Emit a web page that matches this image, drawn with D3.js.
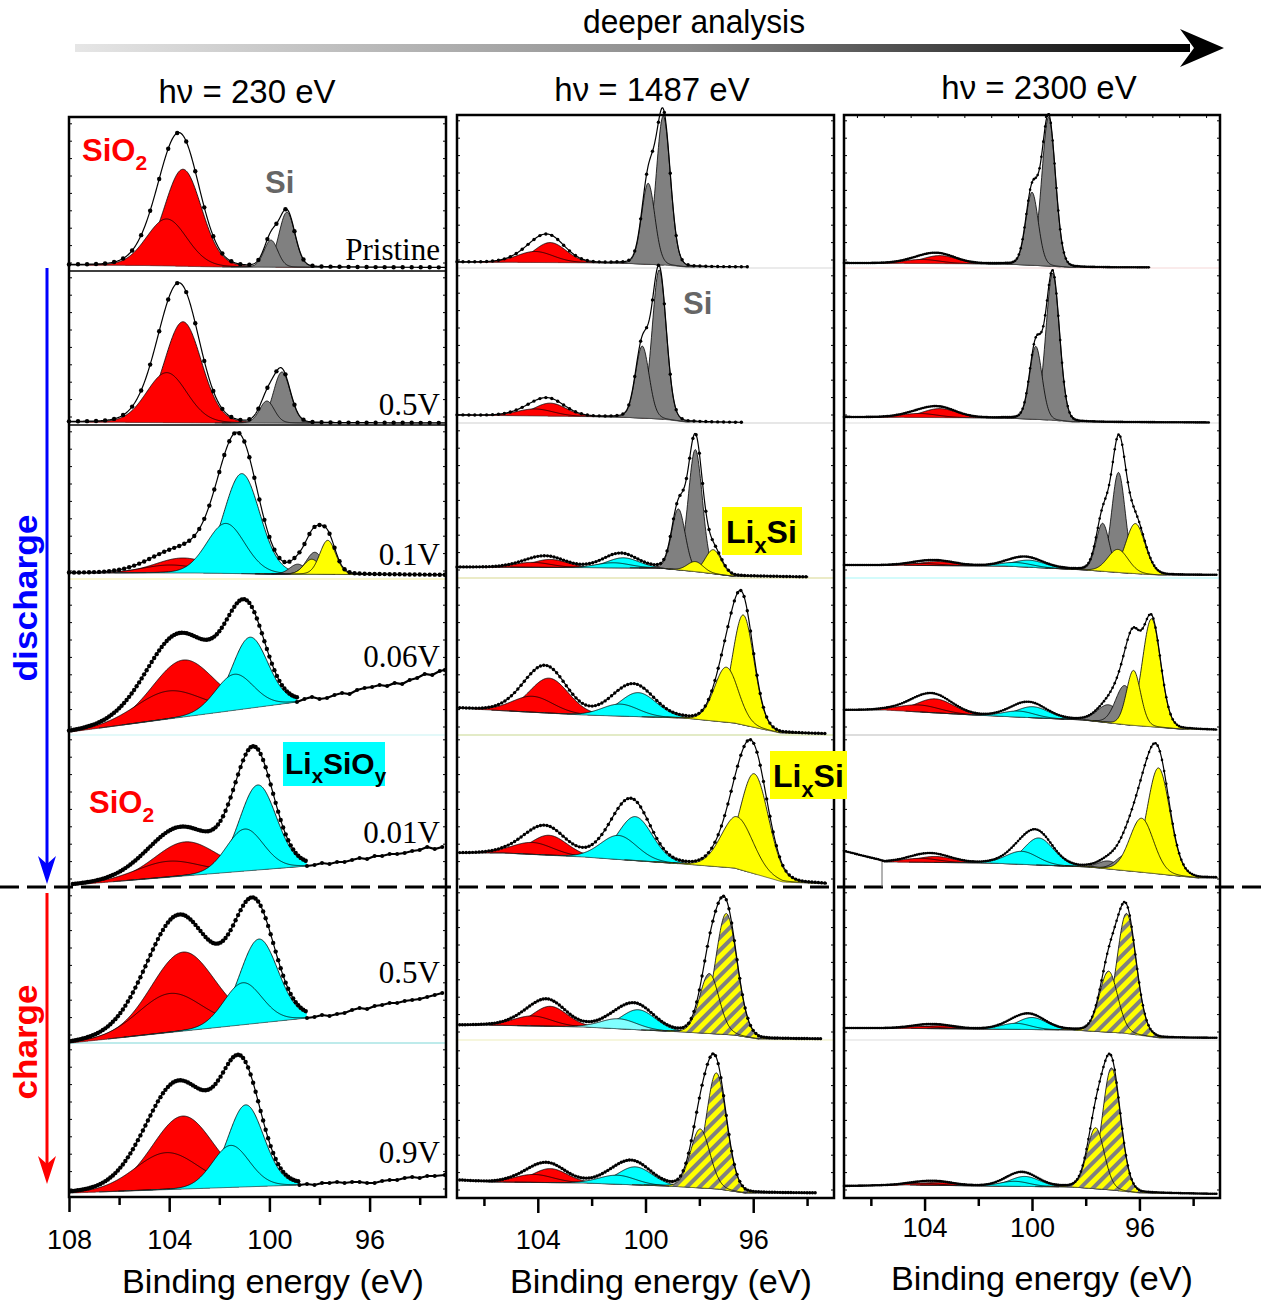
<!DOCTYPE html>
<html><head><meta charset="utf-8">
<script src="https://cdn.jsdelivr.net/npm/d3@7"></script>
<style>body{margin:0;background:#fff}svg{display:block}</style>
</head><body>
<script>
// ---------------- DATA ----------------
const columnTitles = ["h\u03BD = 230 eV", "h\u03BD = 1487 eV", "h\u03BD  = 2300 eV"];
const rowLabels230 = ["Pristine", "0.5V", "0.1V", "0.06V", "0.01V", "0.5V", "0.9V"];
const majorTicks230 = [108, 104, 100, 96];
const majorTicks = [104, 100, 96];
const minorTicks = [106, 102, 98, 94];
const axisTitle = "Binding energy (eV)";

// peaks: [centre (eV), height (a.u. above background), FWHM (eV), species]
const peaks230 = [
  [[103.45,97,1.75,"SiO2"],[104.1,47,1.9,"SiO2"],[99.30,55,0.75,"Si"],[99.94,27,0.65,"Si"]],
  [[103.45,101,1.75,"SiO2"],[104.1,50,1.9,"SiO2"],[99.5,51,0.8,"Si"],[100.1,22,0.7,"Si"]],
  [[103.45,15,2.6,"SiO2"],[103.95,8,2.6,"SiO2"],[101.1,100,1.7,"SiOy"],[101.74,50,1.8,"SiOy"],[98.87,10,0.75,"Si"],[98.19,22,0.8,"Si"],[98.31,15,0.75,"LiSi"],[97.67,34,0.75,"LiSi"]],
  [[103.45,57,2.9,"SiO2"],[104.05,28,3.1,"SiO2"],[100.78,71,1.7,"SiOy"],[101.4,36,1.8,"SiOy"]],
  [[103.37,34,2.9,"SiO2"],[104.05,16,3.0,"SiO2"],[100.46,85,1.75,"SiOy"],[100.98,42,1.75,"SiOy"]],
  [[103.45,79,3.0,"SiO2"],[103.97,39,3.0,"SiO2"],[100.42,84,1.8,"SiOy"],[101.06,42,1.8,"SiOy"]],
  [[103.45,73,2.9,"SiO2"],[104.1,37,3.0,"SiO2"],[100.94,82,1.7,"SiOy"],[101.54,42,1.75,"SiOy"]]
];
// background knots [eV, intensity]
const bg230 = [
  [[108,6],[105,5.5],[102,4],[93,3.5]],
  [[108,3],[102,2],[93,2]],
  [[108,6],[103,6],[100,5],[93,4]],
  [[107.96,3],[98.9,33]],
  [[107.85,2],[98.5,21]],
  [[107.95,0],[98.5,25]],
  [[107.95,4],[98.8,12]]
];
const range230 = [[108,92.95],[108,92.95],[108,92.95],[108,98.9],[107.85,98.5],[107.95,98.5],[107.95,98.8]];
// measured points beyond the fitted window (low binding energy side)
const tails230 = [
  [], [], [],
  [[98.9,33],[98.6,36],[98.3,38],[98.0,36],[97.7,37],[97.4,40],[97.1,42],[96.8,41],[96.5,45],[96.2,47],[95.9,48],[95.6,50],[95.3,49],[95.0,52],[94.7,51],[94.4,55],[94.1,57],[93.8,61],[93.5,60],[93.2,64],[93.0,65]],
  [[98.5,21],[98.2,22],[97.9,24],[97.6,23],[97.3,25],[97.0,25],[96.7,27],[96.4,29],[96.1,28],[95.8,31],[95.5,31],[95.2,33],[94.9,33],[94.6,34],[94.3,36],[94.0,37],[93.7,40],[93.4,38],[93.1,40]],
  [[98.5,25],[98.2,26],[97.9,28],[97.6,27],[97.3,29],[97.0,30],[96.7,33],[96.4,35],[96.1,34],[95.8,37],[95.5,38],[95.2,40],[94.9,40],[94.6,42],[94.3,43],[94.0,44],[93.7,46],[93.4,48],[93.1,50]],
  [[98.8,12],[98.5,13],[98.2,12],[97.9,14],[97.6,14],[97.3,15],[97.0,14],[96.7,15],[96.4,15],[96.1,14],[95.8,14],[95.5,16],[95.2,17],[94.9,17],[94.6,19],[94.3,20],[94.0,19],[93.7,21],[93.4,21],[93.0,22]]
];

const peaks1487 = [
  [[103.54,20,1.4,"SiO2"],[104.1,11,1.6,"SiO2"],[99.34,149,0.62,"Si"],[99.9,81,0.58,"Si"]],
  [[103.54,13,1.4,"SiO2"],[104.1,7,1.6,"SiO2"],[99.49,149,0.62,"Si"],[100.12,72,0.6,"Si"]],
  [[103.54,8,1.5,"SiO2"],[104.2,5,1.6,"SiO2"],[100.83,10,1.4,"SiOy"],[101.2,5,1.5,"SiOy"],[98.15,122,0.62,"Si"],[98.78,61,0.6,"Si"],[97.48,24,0.7,"LiSi"],[98.15,10,0.7,"LiSi"]],
  [[103.58,35,1.7,"SiO2"],[104.2,16,1.8,"SiO2"],[100.27,24,1.6,"SiOy"],[100.94,12,1.6,"SiOy"],[96.37,110,0.95,"LiSi"],[97.0,55,1.05,"LiSi"]],
  [[103.58,20,1.6,"SiO2"],[104.2,12,1.8,"SiO2"],[100.38,44,1.5,"SiOy"],[101.0,24,1.6,"SiOy"],[95.96,100,1.25,"LiSi"],[96.6,52,1.4,"LiSi"]],
  [[103.54,20,1.5,"SiO2"],[104.2,10,1.7,"SiO2"],[100.27,20,1.5,"SiOy"],[101.0,10,1.6,"SiOyL"],[97.0,121,0.95,"LiSiH"],[97.63,60,0.85,"LiSiH"]],
  [[103.54,14,1.5,"SiO2"],[104.15,8,1.7,"SiO2"],[100.38,18,1.5,"SiOy"],[101.05,9,1.6,"SiOy"],[97.37,116,0.9,"LiSiH"],[97.97,59,0.85,"LiSiH"]]
];
const bg1487 = [
  [[107,6],[101,5],[99.3,3],[98.5,1],[96.2,1]],
  [[107,8],[101,6],[99.4,4],[98.5,1],[96.4,0.5]],
  [[107,11],[99.5,10],[98,6],[96.8,2],[93.9,1]],
  [[107,27],[105.8,25],[102.3,20],[98.6,17],[96.7,12],[95.0,2],[93.3,1]],
  [[107,34],[105.3,34],[102.3,30],[98.6,23],[96.7,19],[94.9,5],[93.2,3]],
  [[107,15],[106,15],[102.3,13],[98.6,8],[96.7,5],[95.8,1],[93.5,1]],
  [[107,18],[105.7,16],[102.3,15],[99.2,12],[97.3,9],[96.3,5],[93.7,5]]
];
const range1487 = [[107,96.2],[107,96.4],[107,93.95],[106.9,93.3],[106.9,93.25],[106.9,93.5],[106.9,93.7]];

const peaks2300 = [
  [[103.43,8,1.5,"SiO2"],[104.1,4,1.6,"SiO2"],[99.38,149,0.6,"Si"],[100.0,73,0.55,"Si"]],
  [[103.43,9,1.5,"SiO2"],[104.2,4,1.6,"SiO2"],[99.23,147,0.6,"Si"],[99.86,73,0.55,"Si"]],
  [[103.5,4,1.6,"SiO2"],[104.1,2,1.6,"SiO2"],[100.1,7,1.4,"SiOy"],[100.57,4,1.4,"SiOy"],[96.78,100,0.6,"Si"],[97.37,48,0.58,"Si"],[96.15,50,0.85,"LiSi"],[96.8,23,0.9,"LiSi"]],
  [[103.6,14,1.6,"SiO2"],[104.2,7,1.8,"SiO2"],[99.97,11,1.4,"SiOy"],[100.5,6,1.4,"SiOy"],[97.15,18,1.0,"Si"],[96.55,39,0.8,"Si"],[95.55,108,0.8,"LiSi"],[96.22,55,0.62,"LiSi"]],
  [[103.6,6,1.6,"SiO2"],[104.15,4,1.6,"SiO2"],[99.75,27,1.3,"SiOy"],[100.38,13,1.4,"SiOy"],[97.15,8,0.9,"Si"],[96.48,16,0.9,"Si"],[95.29,106,1.0,"LiSi"],[95.92,54,1.05,"LiSi"]],
  [[103.5,3,1.5,"SiO2"],[104.1,2,1.5,"SiO2"],[100.0,12,1.3,"SiOy"],[100.6,6,1.3,"SiOy"],[96.48,120,0.85,"LiSiH"],[97.15,61,0.8,"LiSiH"]],
  [[103.5,3,1.5,"SiO2"],[104.1,2,1.5,"SiO2"],[100.27,10,1.3,"SiOy"],[100.65,5,1.3,"SiOy"],[97.04,122,0.8,"LiSiH"],[97.63,61,0.75,"LiSiH"]]
];
const bg2300 = [
  [[107,5],[101,4],[99.4,2],[98.6,0.5],[95.6,0.5]],
  [[107,6],[101,5],[99.3,3],[98.5,1],[93.4,0.5]],
  [[107,13],[101,12],[98,8],[96.5,5],[95.3,3],[93.1,3]],
  [[107,25],[105.5,25],[102.2,20],[98.1,15],[96.4,10],[94.5,6],[93.1,5]],
  [[107,36],[105.7,27],[105.5,25],[101.6,24],[97.9,20],[96.0,15],[93.8,9],[93.1,9]],
  [[107,12],[101.6,11],[98.5,10],[96.6,7],[95.25,2],[93.1,2]],
  [[107,12],[104.7,13],[101.6,12],[98.5,11],[97.0,8],[96.0,5],[93.1,4]]
];
const range2300 = [[107,95.6],[107,93.4],[107,93.1],[107,93.1],[107,93.1],[107,93.1],[107,93.1]];

// ---------------- STYLE / LAYOUT ----------------
const MIX = 0.1;
const speciesFill = {SiO2:"#ff0000", SiOy:"#00ffff", SiOyL:"#80ffff", Si:"#808080", LiSi:"#ffff00", LiSiH:"url(#hatch)"};
const SANS = "'Liberation Sans', Arial, sans-serif";
const SERIF = "'Liberation Serif', 'Times New Roman', serif";

const W = 1264, H = 1304;
const svg = d3.select("body").append("svg").attr("width", W).attr("height", H);
const defs = svg.append("defs");
const pat = defs.append("pattern").attr("id","hatch").attr("patternUnits","userSpaceOnUse")
  .attr("width",9).attr("height",9).attr("patternTransform","rotate(45)");
pat.append("rect").attr("width",9).attr("height",9).attr("fill","#ffff00");
pat.append("rect").attr("width",4).attr("height",9).attr("fill","#808080");

const grad = defs.append("linearGradient").attr("id","arrowGrad").attr("x1","0").attr("x2","1").attr("y1","0").attr("y2","0");
grad.append("stop").attr("offset","0").attr("stop-color","#e6e6e6");
grad.append("stop").attr("offset","0.55").attr("stop-color","#8a8a8a");
grad.append("stop").attr("offset","1").attr("stop-color","#000000");

const columns = [
  {x0:69, x1:446, dom:[108,92.95], rows:[117,271,425,579,735,887,1043,1197], peaks:peaks230, bg:bg230, range:range230, tails:tails230,
   major:majorTicks230, dotStep:[0.36,0.36,0.2,0.1,0.1,0.1,0.1], r:2.2, labelY:33, majorLen:15, title:columnTitles[0], titleX:247, titleY:103, axTitleX:273, axTitleY:1293,
   sep:["#000","#000","#f5f0a0","#c8f4f4",null,"#7fd8d8"]},
  {x0:457, x1:834, dom:[107,93], rows:[115,268,423,578,735,887,1040,1198], peaks:peaks1487, bg:bg1487, range:range1487, tails:[[],[],[],[],[],[],[]],
   major:majorTicks, dotStep:[0.22,0.22,0.12,0.12,0.12,0.1,0.1], r:1.7, labelY:32, majorLen:15, title:columnTitles[1], titleX:652, titleY:101, axTitleX:661, axTitleY:1293,
   sep:["#d8d8d8","#d0d0d0","#d8d890","#c8d890",null,"#eeeebb"]},
  {x0:844, x1:1220, dom:[107,93], rows:[115,268,423,578,735,887,1040,1198], peaks:peaks2300, bg:bg2300, range:range2300, tails:[[],[],[],[],[],[],[]],
   major:majorTicks, dotStep:[0.07,0.07,0.07,0.08,0.08,0.07,0.07], r:1.3, labelY:20, majorLen:13, title:columnTitles[2], titleX:1039, titleY:99, axTitleX:1042, axTitleY:1290,
   sep:["#f6d8d8","#dddddd","#a8f8f8","#bbbbbb",null,"#dddddd"]}
];

function gl(E, p) {
  const d = (E - p[0]) / p[2];
  return p[1] * ((1 - MIX) * Math.exp(-4 * Math.LN2 * d * d) + MIX / (1 + 4 * d * d));
}

columns.forEach((c, ci) => {
  const x = d3.scaleLinear().domain(c.dom).range([c.x0, c.x1]);
  const g = svg.append("g");
  c.sep.forEach((col, k) => {
    if (!col) return;
    g.append("line").attr("x1", c.x0).attr("x2", c.x1).attr("y1", c.rows[k+1]).attr("y2", c.rows[k+1])
      .attr("stroke", col).attr("stroke-width", col === "#000" ? 1.6 : 1.2);
  });
  for (let ri = 0; ri < 7; ri++) {
    const bottom = c.rows[ri+1];
    const y = d3.scaleLinear().domain([0, 150]).range([bottom, bottom - 150]);
    const knots = c.bg[ri];
    const bg = d3.scaleLinear().domain(knots.map(d => d[0])).range(knots.map(d => d[1])).clamp(true);
    const rng = c.range[ri];
    const peaks = c.peaks[ri];
    const Es = d3.range(rng[0], rng[1] - 1e-9, -0.02);
    const pg = g.append("g");
    peaks.forEach(p => {
      const pts = Es.filter(E => E <= p[0] + 3 * p[2] && E >= p[0] - 3 * p[2]);
      const area = d3.area().x(E => x(E)).y0(E => y(bg(E))).y1(E => y(bg(E) + gl(E, p)));
      pg.append("path").attr("d", area(pts)).attr("fill", speciesFill[p[3]]).attr("stroke", "none");
      const ln = d3.line().x(E => x(E)).y(E => y(bg(E) + gl(E, p)));
      pg.append("path").attr("d", ln(pts)).attr("fill", "none").attr("stroke", "#000").attr("stroke-width", 0.8);
    });
    const bl = d3.line().x(E => x(E)).y(E => y(bg(E)));
    pg.append("path").attr("d", bl(Es)).attr("fill", "none").attr("stroke", "#333").attr("stroke-width", 0.7);
    const env = E => bg(E) + d3.sum(peaks, p => gl(E, p));
    const envLine = d3.line().x(E => x(E)).y(E => y(env(E)));
    pg.append("path").attr("d", envLine(Es)).attr("fill", "none").attr("stroke", "#000").attr("stroke-width", 1.2);
    const dotsE = d3.range(rng[0], rng[1] - 1e-9, -c.dotStep[ri]);
    pg.selectAll("circle.d").data(dotsE).enter().append("circle")
      .attr("cx", E => x(E)).attr("cy", E => y(env(E))).attr("r", c.r).attr("fill", "#000");
    const tail = c.tails[ri];
    if (tail.length) {
      const tl = d3.line().x(d => x(d[0])).y(d => y(d[1]));
      pg.append("path").attr("d", tl(tail)).attr("fill", "none").attr("stroke", "#000").attr("stroke-width", 2.2);
      pg.selectAll("circle.t").data(tail).enter().append("circle")
        .attr("cx", d => x(d[0])).attr("cy", d => y(d[1])).attr("r", 2).attr("fill", "#000");
    }
    const yt = d3.range(8, 150, 17.4).filter(v => bottom - v > c.rows[ri] + 2);
    yt.forEach(v => {
      g.append("line").attr("x1", c.x0).attr("x2", c.x0 + 3).attr("y1", y(v)).attr("y2", y(v)).attr("stroke", "#000").attr("stroke-width", 1);
      g.append("line").attr("x1", c.x1).attr("x2", c.x1 - 3).attr("y1", y(v)).attr("y2", y(v)).attr("stroke", "#000").attr("stroke-width", 1);
    });
  }
  if (ci === 2) {
    d3.range(106.5, 93, -1).forEach(v => {
      g.append("line").attr("x1", x(v)).attr("x2", x(v)).attr("y1", c.rows[0]).attr("y2", c.rows[0] + 3).attr("stroke", "#000");
    });
  }
  g.append("rect").attr("x", c.x0).attr("y", c.rows[0]).attr("width", c.x1 - c.x0).attr("height", c.rows[7] - c.rows[0])
    .attr("fill", "none").attr("stroke", "#000").attr("stroke-width", 2.5);
  const axMaj = d3.axisBottom(x).tickValues(c.major).tickSize(c.majorLen).tickFormat(d3.format("d"));
  const axG = g.append("g").attr("transform", `translate(0,${c.rows[7]})`).call(axMaj);
  axG.select(".domain").remove();
  axG.selectAll(".tick line").attr("stroke-width", 2.5);
  axG.selectAll(".tick text").attr("y", c.labelY).attr("dy", "0.71em").attr("font-size", 27).attr("font-family", SANS).attr("fill", "#000");
  const axMin = d3.axisBottom(x).tickValues(minorTicks).tickSize(8).tickFormat("");
  const axG2 = g.append("g").attr("transform", `translate(0,${c.rows[7]})`).call(axMin);
  axG2.select(".domain").remove();
  axG2.selectAll(".tick line").attr("stroke-width", 2.5);
  g.append("text").attr("x", c.axTitleX).attr("y", c.axTitleY).attr("text-anchor", "middle")
    .attr("font-family", SANS).attr("font-size", 34).attr("textLength", 302).attr("lengthAdjust", "spacingAndGlyphs").text(axisTitle);
  g.append("text").attr("x", c.titleX).attr("y", c.titleY).attr("text-anchor", "middle")
    .attr("font-family", SANS).attr("font-size", 33).text(c.title);
});

const rowLabelY = [260, 415, 565, 667, 843, 983, 1163];
rowLabels230.forEach((t, i) => {
  svg.append("text").attr("x", 440).attr("y", rowLabelY[i]).attr("text-anchor", "end")
    .attr("font-family", SERIF).attr("font-size", 31).text(t);
});

function chem(xp, yp, parts, color, size) {
  const t = svg.append("text").attr("x", xp).attr("y", yp).attr("font-family", SANS).attr("font-weight", "bold")
    .attr("font-size", size).attr("fill", color);
  let down = false;
  parts.forEach(([s, sub]) => {
    let dy = 0;
    if (sub && !down) { dy = size * 0.3; down = true; }
    else if (!sub && down) { dy = -size * 0.3; down = false; }
    t.append("tspan").text(s).attr("font-size", sub ? size * 0.68 : size).attr("dy", dy);
  });
  return t;
}
chem(82, 161, [["SiO",false],["2",true]], "#ff0000", 31);
chem(265, 193, [["Si",false]], "#666666", 31);
chem(89, 813, [["SiO",false],["2",true]], "#ff0000", 31);
chem(683, 314, [["Si",false]], "#666666", 31);
svg.append("rect").attr("x", 283).attr("y", 742).attr("width", 102).attr("height", 44).attr("fill", "#00ffff");
chem(285, 774, [["Li",false],["x",true],["SiO",false],["y",true]], "#000", 30);
svg.append("rect").attr("x", 722).attr("y", 507).attr("width", 80).attr("height", 48).attr("fill", "#ffff00");
chem(726, 543, [["Li",false],["x",true],["Si",false]], "#000", 32);
svg.append("rect").attr("x", 770).attr("y", 751).attr("width", 77).attr("height", 48).attr("fill", "#ffff00");
chem(773, 787, [["Li",false],["x",true],["Si",false]], "#000", 32);

svg.append("line").attr("x1", 0).attr("x2", W).attr("y1", 887).attr("y2", 887)
  .attr("stroke", "#000").attr("stroke-width", 3).attr("stroke-dasharray", "19,8");

svg.append("rect").attr("x", 75).attr("y", 44).attr("width", 1115).attr("height", 8).attr("fill", "url(#arrowGrad)");
svg.append("path").attr("d", "M1224,48 L1180,29 L1194,48 L1180,67 Z").attr("fill", "#000");
svg.append("text").attr("x", 694).attr("y", 33).attr("text-anchor", "middle").attr("font-family", SANS)
  .attr("font-size", 34).attr("textLength", 222).attr("lengthAdjust", "spacingAndGlyphs").text("deeper analysis");

svg.append("line").attr("x1", 47).attr("x2", 47).attr("y1", 268).attr("y2", 868).attr("stroke", "#0000ff").attr("stroke-width", 3);
svg.append("path").attr("d", "M47,884 L38,856 L47,864 L56,856 Z").attr("fill", "#0000ff");
svg.append("line").attr("x1", 47).attr("x2", 47).attr("y1", 893).attr("y2", 1168).attr("stroke", "#ff0000").attr("stroke-width", 3);
svg.append("path").attr("d", "M47,1184 L38,1156 L47,1164 L56,1156 Z").attr("fill", "#ff0000");
svg.append("text").attr("transform", "translate(37,598) rotate(-90)").attr("text-anchor", "middle")
  .attr("font-family", SANS).attr("font-weight", "bold").attr("font-size", 34).attr("fill", "#0000ff")
  .attr("textLength", 167).attr("lengthAdjust", "spacingAndGlyphs").text("discharge");
svg.append("text").attr("transform", "translate(37,1042) rotate(-90)").attr("text-anchor", "middle")
  .attr("font-family", SANS).attr("font-weight", "bold").attr("font-size", 34).attr("fill", "#ff0000")
  .attr("textLength", 115).attr("lengthAdjust", "spacingAndGlyphs").text("charge");

svg.append("line").attr("x1", 882).attr("x2", 882).attr("y1", 862).attr("y2", 887).attr("stroke", "#666").attr("stroke-width", 1);
</script>
</body></html>
